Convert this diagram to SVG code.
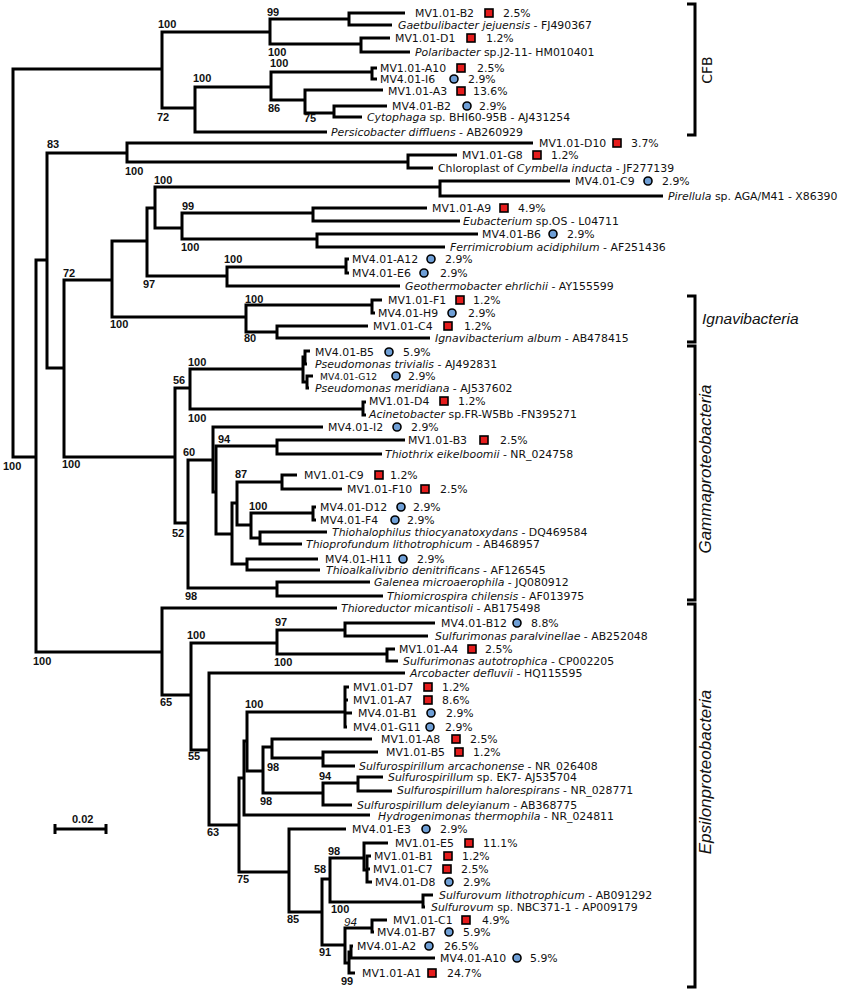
<svg xmlns="http://www.w3.org/2000/svg" xmlns:xlink="http://www.w3.org/1999/xlink" width="842" height="991" viewBox="0 0 842 991">
<style>
.br{fill:none;stroke:#000;stroke-width:3;stroke-linejoin:miter}
.t{font-family:"DejaVu Sans",Verdana,sans-serif;font-size:10.9px;fill:#111}
.s{font-size:9.2px}
.it{font-style:italic}
.bs{font-family:"Liberation Sans",Arial,sans-serif;font-weight:bold;font-size:11px;fill:#111}
.cl{font-family:"Liberation Sans",Arial,sans-serif;fill:#111}
.cfb{font-family:"DejaVu Sans",Verdana,sans-serif;font-size:14px;fill:#111}
</style>
<defs>
<rect id="sq" x="-4" y="-4" width="8" height="8" fill="#e51c1c" stroke="#000" stroke-width="1.6"/>
<circle id="ci" r="4" fill="#6f9fd6" stroke="#000" stroke-width="1.6"/>
</defs>
<rect width="842" height="991" fill="#fff"/>
<g id="edges">
<path class="br" d="M162 69H13V457H36"/>
<path class="br" d="M47 260H36V652H162"/>
<path class="br" d="M127 153H47V368H64"/>
<path class="br" d="M533 143H127V162H408"/>
<path class="br" d="M457 155H408V168H433"/>
<path class="br" d="M112 280H64V457H175"/>
<path class="br" d="M147 241H112V317H246"/>
<path class="br" d="M155 208H147V276H227"/>
<path class="br" d="M440 187H155V228H182"/>
<path class="br" d="M570 181H440V196H663"/>
<path class="br" d="M313 213H182V239H317"/>
<path class="br" d="M427 208H313V221H460"/>
<path class="br" d="M478 234H317V247H445"/>
<path class="br" d="M346 267H227V286H400"/>
<path class="br" d="M349 259H346V273H349"/>
<path class="br" d="M372 305H246V332H277"/>
<path class="br" d="M382 300H372V313H375"/>
<path class="br" d="M368 326H277V338H430"/>
<path class="br" d="M270 32H162V108H195"/>
<path class="br" d="M349 19H270V44H361"/>
<path class="br" d="M405 13H349V25H392"/>
<path class="br" d="M390 38H361V52H410"/>
<path class="br" d="M271 87H195V132H327"/>
<path class="br" d="M372 72H271V100H305"/>
<path class="br" d="M377 68H372V79H377"/>
<path class="br" d="M383 90H305V113H334"/>
<path class="br" d="M387 106H334V117H362"/>
<path class="br" d="M190 388H175V523H188"/>
<path class="br" d="M303 369H190V409H363"/>
<path class="br" d="M305 357H303V382H307"/>
<path class="br" d="M310 351H305V364H307"/>
<path class="br" d="M313 376H307V388H309"/>
<path class="br" d="M366 402H363V415H366"/>
<path class="br" d="M213 460H188V588H277"/>
<path class="br" d="M323 427H213V492H216"/>
<path class="br" d="M277 446H216V534H232"/>
<path class="br" d="M405 440H277V454H382"/>
<path class="br" d="M237 503H232V564H247"/>
<path class="br" d="M282 482H237V525H251"/>
<path class="br" d="M297 475H282V489H342"/>
<path class="br" d="M313 513H251V538H260"/>
<path class="br" d="M316 507H313V520H316"/>
<path class="br" d="M327 532H260V544H302"/>
<path class="br" d="M318 559H247V570H320"/>
<path class="br" d="M370 582H277V596H383"/>
<path class="br" d="M337 608H162V695H191"/>
<path class="br" d="M277 643H191V750H209"/>
<path class="br" d="M345 630H277V654H387"/>
<path class="br" d="M435 623H345V636H428"/>
<path class="br" d="M395 649H387V661H398"/>
<path class="br" d="M405 673H209V825H239"/>
<path class="br" d="M244 778H239V872H289"/>
<path class="br" d="M247 741H244V815H370"/>
<path class="br" d="M345 712H247V771H263"/>
<path class="br" d="M349 687H345V727H347M345 700H348M345 713H352"/>
<path class="br" d="M272 747H263V793H323"/>
<path class="br" d="M372 739H272V758H323"/>
<path class="br" d="M378 752H323V766H355"/>
<path class="br" d="M358 783H323V805H352"/>
<path class="br" d="M383 777H358V791H392"/>
<path class="br" d="M346 829H289V912H322"/>
<path class="br" d="M330 879H322V945H345"/>
<path class="br" d="M364 858H330V902H423"/>
<path class="br" d="M388 843H364V870H367"/>
<path class="br" d="M371 856H367V882H372M367 869H370"/>
<path class="br" d="M433 895H423V907H425"/>
<path class="br" d="M372 928H345V963H349"/>
<path class="br" d="M387 920H372V932H374"/>
<path class="br" d="M351 952H349V973H355"/>
<path class="br" d="M353 946H351V958H435"/>
</g>
<g id="brackets">
<path class="br" d="M687 4H695V135H687"/>
<path class="br" d="M687 296H695V342H687"/>
<path class="br" d="M687 346H695V600H687"/>
<path class="br" d="M687 604H695V987H687"/>
<text class="cfb" transform="translate(712,70) rotate(-90)" text-anchor="middle">CFB</text>
<text class="cl it" font-size="15.5" x="702" y="324">Ignavibacteria</text>
<text class="cl it" font-size="17" transform="translate(711,469) rotate(-90)" text-anchor="middle">Gammaproteobacteria</text>
<text class="cl it" font-size="17" transform="translate(711,772) rotate(-90)" text-anchor="middle">Epsilonproteobacteria</text>
</g>
<g id="scale">
<path class="br" d="M55 829H106M55 824V834M106 824V834"/>
<text class="bs" x="72" y="823">0.02</text>
</g>
<g id="support">
<text class="bs" x="267" y="16">99</text>
<text class="bs" x="268" y="56">100</text>
<text class="bs" x="158" y="28">100</text>
<text class="bs" x="157" y="121">72</text>
<text class="bs" x="193" y="82">100</text>
<text class="bs" x="270" y="67">100</text>
<text class="bs" x="268" y="112">86</text>
<text class="bs" x="304" y="122">75</text>
<text class="bs" x="47" y="148">83</text>
<text class="bs" x="125" y="175">100</text>
<text class="bs" x="154" y="184">100</text>
<text class="bs" x="182" y="210">99</text>
<text class="bs" x="181" y="251">100</text>
<text class="bs" x="63" y="277">72</text>
<text class="bs" x="224" y="263">100</text>
<text class="bs" x="143" y="288">97</text>
<text class="bs" x="245" y="303">100</text>
<text class="bs" x="110" y="328">100</text>
<text class="bs" x="244" y="342">80</text>
<text class="bs" x="188" y="366">100</text>
<text class="bs" x="173" y="384">56</text>
<text class="bs" x="188" y="422">100</text>
<text class="bs" x="218" y="443">94</text>
<text class="bs" x="183" y="456">60</text>
<text class="bs" x="3" y="470">100</text>
<text class="bs" x="62" y="468">100</text>
<text class="bs" x="235" y="478">87</text>
<text class="bs" x="249" y="510">100</text>
<text class="bs" x="172" y="537">52</text>
<text class="bs" x="185" y="600">98</text>
<text class="bs" x="275" y="626">97</text>
<text class="bs" x="187" y="639">100</text>
<text class="bs" x="33" y="665">100</text>
<text class="bs" x="274" y="666">100</text>
<text class="bs" x="160" y="706">65</text>
<text class="bs" x="245" y="708">100</text>
<text class="bs" x="188" y="760">55</text>
<text class="bs" x="267" y="771">98</text>
<text class="bs" x="319" y="780">94</text>
<text class="bs" x="260" y="805">98</text>
<text class="bs" x="207" y="836">63</text>
<text class="bs" x="328" y="855">98</text>
<text class="bs" x="314" y="873">58</text>
<text class="bs" x="237" y="883">75</text>
<text class="bs" x="331" y="913">100</text>
<text class="bs" x="287" y="923">85</text>
<text class="cl it" font-size="11.5" x="344" y="926">94</text>
<text class="bs" x="319" y="956">91</text>
<text class="bs" x="341" y="985">99</text>
</g>
<g id="leaf-MV1.01-B2"><text class="t" x="415" y="17">MV1.01-B2</text><use href="#sq" x="489" y="13"/><text class="t" x="503" y="17">2.5%</text></g>
<g id="leaf-Gaetbulibacter"><text class="t" x="398" y="29"><tspan class="it">Gaetbulibacter jejuensis</tspan> - FJ490367</text></g>
<g id="leaf-MV1.01-D1"><text class="t" x="395" y="42">MV1.01-D1</text><use href="#sq" x="471" y="38"/><text class="t" x="486" y="42">1.2%</text></g>
<g id="leaf-Polaribacter"><text class="t" x="415" y="56"><tspan class="it">Polaribacter</tspan> sp.J2-11- HM010401</text></g>
<g id="leaf-MV1.01-A10"><text class="t" x="380" y="72">MV1.01-A10</text><use href="#sq" x="461" y="68"/><text class="t" x="477" y="72">2.5%</text></g>
<g id="leaf-MV4.01-I6"><text class="t" x="380" y="83">MV4.01-I6</text><use href="#ci" x="454" y="79"/><text class="t" x="468" y="83">2.9%</text></g>
<g id="leaf-MV1.01-A3"><text class="t" x="388" y="95">MV1.01-A3</text><use href="#sq" x="461" y="91"/><text class="t" x="473" y="95">13.6%</text></g>
<g id="leaf-MV4.01-B2"><text class="t" x="392" y="110">MV4.01-B2</text><use href="#ci" x="467" y="106"/><text class="t" x="479" y="110">2.9%</text></g>
<g id="leaf-Cytophaga"><text class="t" x="367" y="121"><tspan class="it">Cytophaga</tspan> sp. BHI60-95B - AJ431254</text></g>
<g id="leaf-Persicobacter"><text class="t" x="331" y="136"><tspan class="it">Persicobacter diffluens</tspan> - AB260929</text></g>
<g id="leaf-MV1.01-D10"><text class="t" x="539" y="147">MV1.01-D10</text><use href="#sq" x="617" y="143"/><text class="t" x="631" y="147">3.7%</text></g>
<g id="leaf-MV1.01-G8"><text class="t" x="462" y="159">MV1.01-G8</text><use href="#sq" x="537" y="155"/><text class="t" x="551" y="159">1.2%</text></g>
<g id="leaf-Cymbella"><text class="t" x="438" y="172">Chloroplast of <tspan class="it">Cymbella inducta</tspan> - JF277139</text></g>
<g id="leaf-MV4.01-C9"><text class="t" x="575" y="185">MV4.01-C9</text><use href="#ci" x="648" y="181"/><text class="t" x="662" y="185">2.9%</text></g>
<g id="leaf-Pirellula"><text class="t" x="668" y="200"><tspan class="it">Pirellula</tspan> sp. AGA/M41 - X86390</text></g>
<g id="leaf-MV1.01-A9"><text class="t" x="432" y="212">MV1.01-A9</text><use href="#sq" x="504" y="208"/><text class="t" x="518" y="212">4.9%</text></g>
<g id="leaf-Eubacterium"><text class="t" x="463" y="225"><tspan class="it">Eubacterium</tspan> sp.OS - L04711</text></g>
<g id="leaf-MV4.01-B6"><text class="t" x="482" y="238">MV4.01-B6</text><use href="#ci" x="553" y="234"/><text class="t" x="567" y="238">2.9%</text></g>
<g id="leaf-Ferrimicrobium"><text class="t" x="450" y="251"><tspan class="it">Ferrimicrobium acidiphilum</tspan> - AF251436</text></g>
<g id="leaf-MV4.01-A12"><text class="t" x="352" y="263">MV4.01-A12</text><use href="#ci" x="431" y="259"/><text class="t" x="445" y="263">2.9%</text></g>
<g id="leaf-MV4.01-E6"><text class="t" x="352" y="277">MV4.01-E6</text><use href="#ci" x="424" y="273"/><text class="t" x="440" y="277">2.9%</text></g>
<g id="leaf-Geothermobacter"><text class="t" x="405" y="290"><tspan class="it">Geothermobacter ehrlichii</tspan> - AY155599</text></g>
<g id="leaf-MV1.01-F1"><text class="t" x="388" y="304">MV1.01-F1</text><use href="#sq" x="460" y="300"/><text class="t" x="473" y="304">1.2%</text></g>
<g id="leaf-MV4.01-H9"><text class="t" x="378" y="317">MV4.01-H9</text><use href="#ci" x="452" y="313"/><text class="t" x="468" y="317">2.9%</text></g>
<g id="leaf-MV1.01-C4"><text class="t" x="373" y="330">MV1.01-C4</text><use href="#sq" x="448" y="326"/><text class="t" x="464" y="330">1.2%</text></g>
<g id="leaf-Ignavibacterium"><text class="t" x="435" y="342"><tspan class="it">Ignavibacterium album</tspan> - AB478415</text></g>
<g id="leaf-MV4.01-B5"><text class="t" x="315" y="356">MV4.01-B5</text><use href="#ci" x="389" y="352"/><text class="t" x="403" y="356">5.9%</text></g>
<g id="leaf-Ps-trivialis"><text class="t" x="315" y="368"><tspan class="it">Pseudomonas trivialis</tspan> - AJ492831</text></g>
<g id="leaf-MV4.01-G12"><text class="t s" x="320" y="380">MV4.01-G12</text><use href="#ci" x="396" y="376"/><text class="t" x="408" y="380">2.9%</text></g>
<g id="leaf-Ps-meridiana"><text class="t" x="315" y="392"><tspan class="it">Pseudomonas meridiana</tspan> - AJ537602</text></g>
<g id="leaf-MV1.01-D4"><text class="t" x="369" y="405">MV1.01-D4</text><use href="#sq" x="444" y="401"/><text class="t" x="458" y="405">1.2%</text></g>
<g id="leaf-Acinetobacter"><text class="t" x="369" y="418"><tspan class="it">Acinetobacter</tspan> sp.FR-W5Bb -FN395271</text></g>
<g id="leaf-MV4.01-I2"><text class="t" x="328" y="431">MV4.01-I2</text><use href="#ci" x="397" y="427"/><text class="t" x="411" y="431">2.9%</text></g>
<g id="leaf-MV1.01-B3"><text class="t" x="408" y="444">MV1.01-B3</text><use href="#sq" x="484" y="440"/><text class="t" x="500" y="444">2.5%</text></g>
<g id="leaf-Thiothrix"><text class="t" x="385" y="458"><tspan class="it">Thiothrix eikelboomii</tspan> - NR_024758</text></g>
<g id="leaf-MV1.01-C9"><text class="t" x="304" y="479">MV1.01-C9</text><use href="#sq" x="379" y="475"/><text class="t" x="390" y="479">1.2%</text></g>
<g id="leaf-MV1.01-F10"><text class="t" x="347" y="493">MV1.01-F10</text><use href="#sq" x="425" y="489"/><text class="t" x="440" y="493">2.5%</text></g>
<g id="leaf-MV4.01-D12"><text class="t" x="320" y="511">MV4.01-D12</text><use href="#ci" x="401" y="507"/><text class="t" x="413" y="511">2.9%</text></g>
<g id="leaf-MV4.01-F4"><text class="t" x="320" y="524">MV4.01-F4</text><use href="#ci" x="395" y="520"/><text class="t" x="407" y="524">2.9%</text></g>
<g id="leaf-Thiohalophilus"><text class="t" x="332" y="536"><tspan class="it">Thiohalophilus thiocyanatoxydans</tspan> - DQ469584</text></g>
<g id="leaf-Thioprofundum"><text class="t" x="306" y="548"><tspan class="it">Thioprofundum lithotrophicum</tspan> - AB468957</text></g>
<g id="leaf-MV4.01-H11"><text class="t" x="325" y="563">MV4.01-H11</text><use href="#ci" x="403" y="559"/><text class="t" x="417" y="563">2.9%</text></g>
<g id="leaf-Thioalkalivibrio"><text class="t" x="326" y="574"><tspan class="it">Thioalkalivibrio denitrificans</tspan> - AF126545</text></g>
<g id="leaf-Galenea"><text class="t" x="374" y="586"><tspan class="it">Galenea microaerophila</tspan> - JQ080912</text></g>
<g id="leaf-Thiomicrospira"><text class="t" x="387" y="600"><tspan class="it">Thiomicrospira chilensis</tspan> - AF013975</text></g>
<g id="leaf-Thioreductor"><text class="t" x="341" y="612"><tspan class="it">Thioreductor micantisoli</tspan> - AB175498</text></g>
<g id="leaf-MV4.01-B12"><text class="t" x="441" y="627">MV4.01-B12</text><use href="#ci" x="517" y="623"/><text class="t" x="531" y="627">8.8%</text></g>
<g id="leaf-S-paralvinellae"><text class="t" x="435" y="640"><tspan class="it">Sulfurimonas paralvinellae</tspan> - AB252048</text></g>
<g id="leaf-MV1.01-A4"><text class="t" x="399" y="653">MV1.01-A4</text><use href="#sq" x="472" y="649"/><text class="t" x="485" y="653">2.5%</text></g>
<g id="leaf-S-autotrophica"><text class="t" x="403" y="665"><tspan class="it">Sulfurimonas autotrophica</tspan> - CP002205</text></g>
<g id="leaf-Arcobacter"><text class="t" x="410" y="677"><tspan class="it">Arcobacter defluvii</tspan> - HQ115595</text></g>
<g id="leaf-MV1.01-D7"><text class="t" x="353" y="691">MV1.01-D7</text><use href="#sq" x="428" y="687"/><text class="t" x="442" y="691">1.2%</text></g>
<g id="leaf-MV1.01-A7"><text class="t" x="353" y="704">MV1.01-A7</text><use href="#sq" x="428" y="700"/><text class="t" x="442" y="704">8.6%</text></g>
<g id="leaf-MV4.01-B1"><text class="t" x="358" y="717">MV4.01-B1</text><use href="#ci" x="431" y="713"/><text class="t" x="446" y="717">2.9%</text></g>
<g id="leaf-MV4.01-G11"><text class="t" x="353" y="731">MV4.01-G11</text><use href="#ci" x="430" y="727"/><text class="t" x="445" y="731">2.9%</text></g>
<g id="leaf-MV1.01-A8"><text class="t" x="381" y="743">MV1.01-A8</text><use href="#sq" x="456" y="739"/><text class="t" x="470" y="743">2.5%</text></g>
<g id="leaf-MV1.01-B5"><text class="t" x="386" y="756">MV1.01-B5</text><use href="#sq" x="459" y="752"/><text class="t" x="473" y="756">1.2%</text></g>
<g id="leaf-S-arcachonense"><text class="t" x="359" y="770"><tspan class="it">Sulfurospirillum arcachonense</tspan> - NR_026408</text></g>
<g id="leaf-S-EK7"><text class="t" x="388" y="781"><tspan class="it">Sulfurospirillum</tspan> sp. EK7- AJ535704</text></g>
<g id="leaf-S-halorespirans"><text class="t" x="397" y="794"><tspan class="it">Sulfurospirillum halorespirans</tspan> - NR_028771</text></g>
<g id="leaf-S-deleyianum"><text class="t" x="357" y="809"><tspan class="it">Sulfurospirillum deleyianum</tspan> - AB368775</text></g>
<g id="leaf-Hydrogenimonas"><text class="t" x="378" y="820"><tspan class="it">Hydrogenimonas thermophila</tspan> - NR_024811</text></g>
<g id="leaf-MV4.01-E3"><text class="t" x="352" y="833">MV4.01-E3</text><use href="#ci" x="426" y="829"/><text class="t" x="440" y="833">2.9%</text></g>
<g id="leaf-MV1.01-E5"><text class="t" x="395" y="847">MV1.01-E5</text><use href="#sq" x="469" y="843"/><text class="t" x="483" y="847">11.1%</text></g>
<g id="leaf-MV1.01-B1"><text class="t" x="374" y="860">MV1.01-B1</text><use href="#sq" x="448" y="856"/><text class="t" x="462" y="860">1.2%</text></g>
<g id="leaf-MV1.01-C7"><text class="t" x="373" y="873">MV1.01-C7</text><use href="#sq" x="447" y="869"/><text class="t" x="461" y="873">2.5%</text></g>
<g id="leaf-MV4.01-D8"><text class="t" x="375" y="886">MV4.01-D8</text><use href="#ci" x="449" y="882"/><text class="t" x="463" y="886">2.9%</text></g>
<g id="leaf-S-lithotrophicum"><text class="t" x="439" y="899"><tspan class="it">Sulfurovum lithotrophicum</tspan> - AB091292</text></g>
<g id="leaf-S-NBC371"><text class="t" x="431" y="911"><tspan class="it">Sulfurovum</tspan> sp. NBC371-1 - AP009179</text></g>
<g id="leaf-MV1.01-C1"><text class="t" x="393" y="924">MV1.01-C1</text><use href="#sq" x="466" y="920"/><text class="t" x="482" y="924">4.9%</text></g>
<g id="leaf-MV4.01-B7"><text class="t" x="377" y="936">MV4.01-B7</text><use href="#ci" x="449" y="932"/><text class="t" x="463" y="936">5.9%</text></g>
<g id="leaf-MV4.01-A2"><text class="t" x="357" y="950">MV4.01-A2</text><use href="#ci" x="429" y="946"/><text class="t" x="444" y="950">26.5%</text></g>
<g id="leaf-MV4.01-A10"><text class="t" x="440" y="962">MV4.01-A10</text><use href="#ci" x="517" y="958"/><text class="t" x="530" y="962">5.9%</text></g>
<g id="leaf-MV1.01-A1"><text class="t" x="362" y="977">MV1.01-A1</text><use href="#sq" x="432" y="973"/><text class="t" x="447" y="977">24.7%</text></g>
</svg>
